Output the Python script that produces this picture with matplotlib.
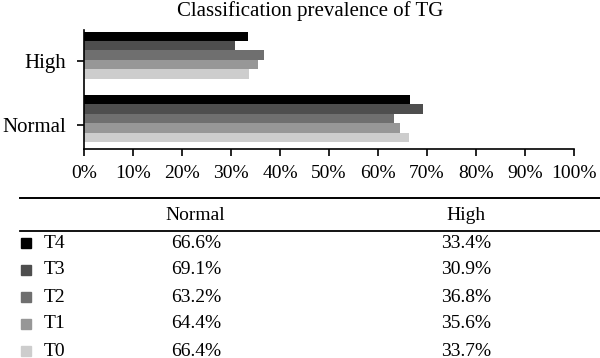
import matplotlib
matplotlib.use("Agg")
import matplotlib.pyplot as plt
from matplotlib.lines import Line2D
from matplotlib.patches import Rectangle
import numpy as np

plt.rcParams['font.family'] = ['Liberation Serif', 'DejaVu Serif']

categories = ["Normal", "High"]
series = ["T4", "T3", "T2", "T1", "T0"]
normal_vals = [66.6, 69.1, 63.2, 64.4, 66.4]
high_vals = [33.4, 30.9, 36.8, 35.6, 33.7]
colors = ["#000000", "#4e4e4e", "#6f6f6f", "#979797", "#cdcdcd"]
xticks = list(range(0, 101, 10))
title = "Classification prevalence of TG"

W, H = 600, 358
fig = plt.figure(figsize=(W / 100, H / 100), dpi=100)

def fx(px):
    return px / W

def fy(py):
    return 1 - py / H

ax = fig.add_axes([fx(84), fy(149.5), fx(574) - fx(84), fy(30) - fy(149.5)])

group_pos = np.array([0.0, 1.0])
bh = 0.148
n = len(series)
for i, s in enumerate(series):
    offset = (n - 1) / 2 * bh - i * bh
    vals = [normal_vals[i], high_vals[i]]
    ax.barh(group_pos + offset, vals, height=bh, color=colors[i], edgecolor='none')

ax.set_xlim(0, 100)
ax.set_ylim(-0.488, 1.394)
ax.set_xticks(xticks)
ax.set_xticklabels([f"{t}%" for t in xticks], fontsize=14)
ax.set_yticks(group_pos - 0.1)
ax.set_yticklabels(categories, fontsize=15)
for sp in ['top', 'right']:
    ax.spines[sp].set_visible(False)
for sp in ['left', 'bottom']:
    ax.spines[sp].set_linewidth(1.2)
ax.tick_params(axis='both', length=5, width=1.2, color='black')
ax.tick_params(axis='x', pad=6)
ax.tick_params(axis='y', pad=8)

fig.text(fx(310), fy(11), title, ha='center', va='center', fontsize=15)

# table
fig.add_artist(Line2D([fx(20), fx(600)], [fy(197.7), fy(197.7)], color='black', lw=1.4))
fig.add_artist(Line2D([fx(20), fx(600)], [fy(230.7), fy(230.7)], color='black', lw=1.3))
fig.text(fx(195), fy(216), categories[0], ha='center', va='center', fontsize=14)
fig.text(fx(466), fy(216), categories[1], ha='center', va='center', fontsize=14)

row_y = [243, 270, 297, 324, 351]
for i, s in enumerate(series):
    y = row_y[i]
    fig.add_artist(Rectangle((fx(21), fy(y + 5)), fx(10), 10 / H, color=colors[i],
                             transform=fig.transFigure))
    fig.text(fx(44), fy(y), s, ha='left', va='center', fontsize=14)
    fig.text(fx(196), fy(y), f"{normal_vals[i]:.1f}%", ha='center', va='center', fontsize=14)
    fig.text(fx(466), fy(y), f"{high_vals[i]:.1f}%", ha='center', va='center', fontsize=14)

fig.savefig("out.png", dpi=100)
